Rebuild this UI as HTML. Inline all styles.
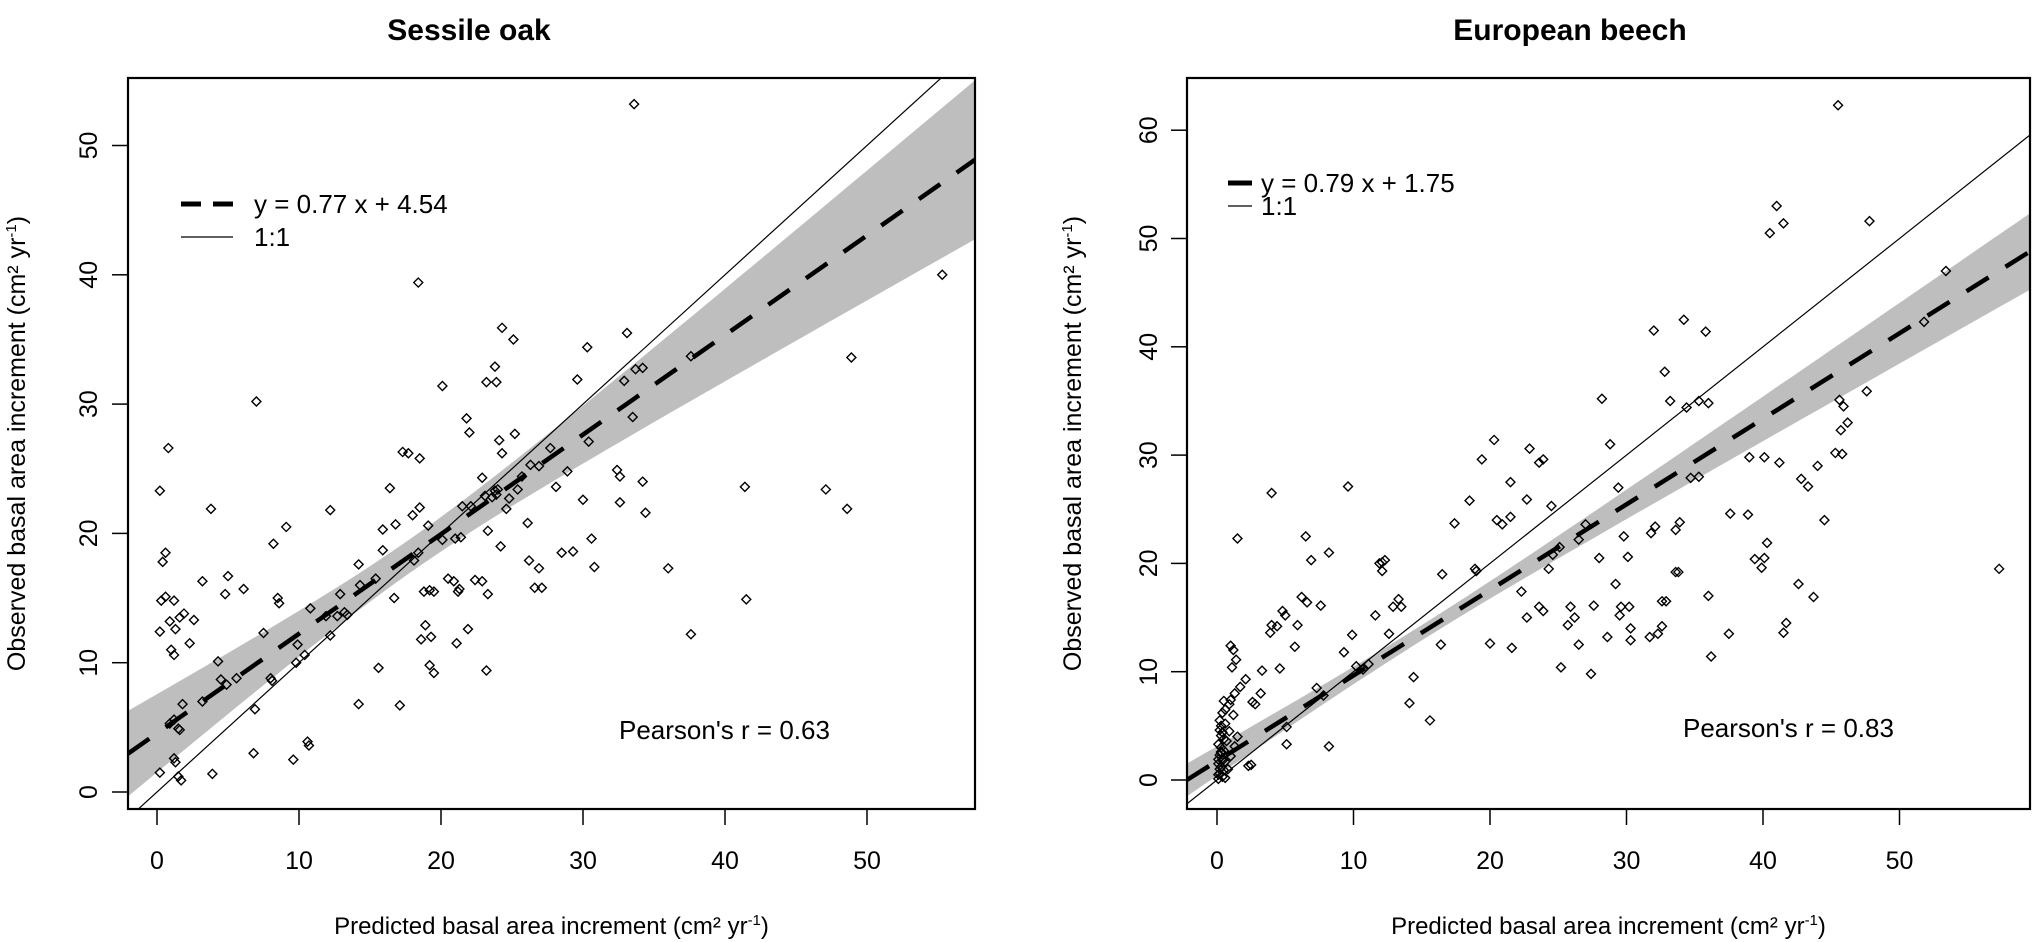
<!DOCTYPE html>
<html><head><meta charset="utf-8"><style>
html,body{margin:0;padding:0;background:#fff;}
svg{display:block;font-family:"Liberation Sans",Arial,sans-serif;}
</style></head><body>
<svg id="chart" width="2032" height="942" viewBox="0 0 2032 942" xmlns="http://www.w3.org/2000/svg"></svg>
<script>
// ---- data ----
const oakX = [33.6,18.4,7.0,0.8,0.2,3.8,0.6,0.4,0.3,0.6,1.2,3.2,5,6.1,4.8,2.6,1.6,1.9,0.9,1.3,0.2,1,1.2,2.3,4.5,4.3,1.8,1.2,0.9,1.5,1.6,1.2,1.3,0.2,1.7,1.5,3.9,6.8,6.9,3.2,9.6,10.6,10.7,9.8,10.4,9.1,8.5,8.6,8.2,7.5,8,8.1,9.9,11.9,12.2,10.8,12.9,12.2,13.2,13.4,15.4,14.2,14.2,15.6,16.4,15.9,17.3,17.1,17.7,18.5,16.8,16.7,18.5,18.4,19.1,18.1,18.8,19.2,18.6,19.5,18.9,19.3,19.2,19.5,20.1,20.1,20.5,21,20.9,21.2,21.3,21.4,21.5,21.1,21.9,22.4,22.0,21.8,23.2,22.9,23.6,23.8,23.9,24.0,23.3,23.1,22.9,23.3,23.2,23.8,23.9,24.3,25.1,24.1,24.3,25.2,24.2,24.8,25.4,26.1,26.2,25.7,26.3,26.9,26.6,27.1,26.9,27.7,28.1,28.9,28.5,29.6,30.0,30.3,30.4,30.6,30.8,32.4,32.6,32.6,32.9,33.7,34.2,33.1,34.2,34.4,33.5,36.0,37.6,37.6,41.4,41.5,47.1,48.6,48.9,55.3,29.3,22.1,24.6,12.7,14.3,15.9,18.0,4.9,5.6];
const oakY = [53.2,39.4,30.2,26.6,23.3,21.9,18.5,17.8,14.8,15.1,14.8,16.3,16.7,15.7,15.3,13.3,13.5,13.8,13.2,12.6,12.4,11,10.6,11.5,8.7,10.1,6.8,5.6,5.3,4.9,4.8,2.6,2.3,1.5,0.9,1.2,1.4,3.0,6.4,7,2.5,3.9,3.6,10.0,10.6,20.5,15.0,14.6,19.2,12.3,8.8,8.6,11.4,13.6,12.1,14.2,15.3,21.8,13.9,13.7,16.5,17.6,6.8,9.6,23.5,20.3,26.3,6.7,26.2,25.8,20.7,15.0,22.0,18.5,20.6,17.9,15.5,15.6,11.8,15.5,12.9,12.0,9.8,9.2,31.4,19.5,16.5,19.6,16.3,15.5,15.7,19.7,22.1,11.5,12.6,16.4,27.8,28.9,31.7,24.3,22.8,23.3,23.0,23.4,20.2,22.9,16.3,15.3,9.4,32.9,31.7,35.9,35.0,27.2,26.2,27.7,19.0,22.7,23.4,20.8,17.9,24.4,25.3,25.2,15.8,15.8,17.3,26.6,23.6,24.8,18.5,31.9,22.6,34.4,27.1,19.6,17.4,24.9,24.4,22.4,31.8,32.7,32.8,35.5,24.0,21.6,29.0,17.3,33.7,12.2,23.6,14.9,23.4,21.9,33.6,40.0,18.6,22.1,21.9,13.6,16.0,18.7,21.4,8.3,8.8];
const beechX = [45.5,41.0,40.5,41.5,47.8,32.0,34.2,35.8,32.8,33.2,28.2,34.4,28.8,20.3,23.9,23.6,22.9,21.5,22.7,24.5,21.5,20.9,25.1,27.0,26.5,29.4,29.8,30.1,28.0,32.1,31.8,33.6,33.9,33.6,32.9,32.3,32.6,31.7,30.3,28.6,29.5,29.6,27.6,26.2,25.9,25.7,27.4,25.2,24.3,22.7,23.6,23.9,21.6,20.0,19.0,18.9,18.5,17.4,16.5,16.4,15.6,14.4,14.1,13.5,13.3,12.9,12.1,12.3,11.9,12.1,11.6,12.6,11.1,10.7,10.2,9.9,9.6,9.3,8.2,8.2,7.6,7.3,6.9,6.6,6.5,6.2,5.9,5.7,5.0,4.8,4.4,4.0,4.0,4.6,3.9,3.3,3.2,2.8,2.6,2.3,2.5,2.1,1.5,1.2,1.0,1.4,1.1,1.7,1.3,1.0,0.9,0.5,0.6,1.2,1.5,0.6,0.3,0.2,0.4,0.9,0.1,0.3,0.5,0.2,0.4,0.6,0.1,0.3,0.5,0.2,0.4,0.1,0.6,0.8,1.0,1.3,0.7,0.3,0.1,5.1,5.1,7.8,36.0,36.2,37.5,37.6,39.0,38.9,39.4,40.1,39.9,40.3,40.1,41.2,41.7,42.6,42.8,43.3,43.7,44.5,45.3,45.8,45.6,45.7,45.9,46.2,47.6,51.8,53.4,57.3,44.0,32.6,30.2,35.3,34.7,36.0,35.3,41.5,20.5,19.4,24.6,22.3,26.5,30.3,29.2,33.8,0.2,0.4,0.3,0.1,0.5,0.2,0.4,0.3];
const beechY = [62.3,53.0,50.5,51.4,51.6,41.5,42.5,41.4,37.7,35.0,35.2,34.4,31.0,31.4,29.6,29.3,30.6,27.5,25.9,25.3,24.3,23.6,21.5,23.6,22.2,27.0,22.5,20.6,20.5,23.4,22.8,23.1,23.8,19.2,16.5,13.5,14.2,13.2,12.9,13.2,15.2,16.0,16.1,15.0,16.0,14.3,9.8,10.4,19.5,15.0,16.0,15.6,12.2,12.6,19.3,19.5,25.8,23.7,19.0,12.5,5.5,9.5,7.1,16.0,16.7,16.0,20.1,20.3,20.0,19.3,15.2,13.5,10.7,10.2,10.5,13.4,27.1,11.8,21.0,3.1,16.1,8.5,20.3,16.4,22.5,16.9,14.3,12.3,15.2,15.6,14.2,26.5,14.3,10.3,13.6,10.1,8.0,7.0,7.2,1.3,1.4,9.3,22.3,12.0,12.4,11.1,10.4,8.6,8.0,7.4,7.0,7.3,6.5,6.0,4.0,5.2,5.0,4.6,4.4,4.5,3.3,3.0,2.7,2.3,2.0,1.7,1.5,1.2,0.9,0.6,0.3,0.1,0.2,1.0,2.2,3.1,3.6,2.6,1.9,3.3,4.9,7.8,34.8,11.4,13.5,24.6,29.8,24.5,20.4,20.5,19.6,21.9,29.8,29.3,14.5,18.1,27.8,27.1,16.9,24.0,30.2,30.1,35.1,32.3,34.5,33.0,35.9,42.3,47.0,19.5,29.0,16.5,16.0,35.0,27.9,17.0,28.0,13.6,24.0,29.6,20.8,17.4,12.5,14.0,18.1,19.2,1.0,1.8,2.5,0.5,3.8,5.5,6.2,4.1];
const oakXTicks = [0,10,20,30,40,50];
const oakYTicks = [0,10,20,30,40,50];
const beechXTicks = [0,10,20,30,40,50];
const beechYTicks = [0,10,20,30,40,50,60];
const oakFit = [0.77, 4.54];
const beechFit = [0.79, 1.75];
const oakBand = [18, 1.69, 0.023];
const beechBand = [15, 0.5, 0.006];

const NS = "http://www.w3.org/2000/svg";
const svg = document.getElementById('chart');
function mk(tag, attrs, parent){
  const e = document.createElementNS(NS, tag);
  for (const k in attrs) e.setAttribute(k, attrs[k]);
  (parent||svg).appendChild(e);
  return e;
}

function panel(cfg){
  const g = mk('g', {});
  
  
  const sx = v => cfg.x0 + v*cfg.kx;
  const sy = v => cfg.y0 - v*cfg.ky;
  const clipId = cfg.name + '-clip';
  const cp = mk('clipPath', {id: clipId}, g);
  mk('rect', {x: cfg.L, y: cfg.T, width: cfg.R-cfg.L, height: cfg.B-cfg.T}, cp);
  const xmin = (cfg.L - cfg.x0)/cfg.kx, xmax = (cfg.R - cfg.x0)/cfg.kx;
  let up = [], lo = [];
  for (let i=0;i<=60;i++){
    const xv = xmin + (xmax-xmin)*i/60;
    const yv = cfg.fit[0]*xv + cfg.fit[1];
    const hw = Math.sqrt(cfg.band[1] + cfg.band[2]*(xv-cfg.band[0])**2);
    up.push(sx(xv).toFixed(1)+','+sy(yv+hw).toFixed(1));
    lo.unshift(sx(xv).toFixed(1)+','+sy(yv-hw).toFixed(1));
  }
  const band = mk('polygon', {points: up.concat(lo).join(' '), fill:'#bebebe', 'clip-path':'url(#'+clipId+')'}, g);
  
  
  const one = mk('line', {x1: sx(xmin), y1: sy(xmin), x2: sx(xmax), y2: sy(xmax), stroke:'#000', 'stroke-width':1.2, 'clip-path':'url(#'+clipId+')'}, g);
  
  
  const reg = mk('line', {x1: sx(xmin), y1: sy(cfg.fit[0]*xmin+cfg.fit[1]), x2: sx(xmax), y2: sy(cfg.fit[0]*xmax+cfg.fit[1]), stroke:'#000', 'stroke-width':4.5, 'stroke-dasharray':'26 20', 'clip-path':'url(#'+clipId+')'}, g);
  
  
  for (let i=0;i<cfg.xs.length;i++){
    const px = sx(cfg.xs[i]), py = sy(cfg.ys[i]), r = 4.5;
    const p = mk('polygon', {points: `${px},${py-r} ${px+r},${py} ${px},${py+r} ${px-r},${py}`, fill:'none', stroke:'#000', 'stroke-width':1.4}, g);
    
    
  }
  const fr = mk('rect', {x: cfg.L, y: cfg.T, width: cfg.R-cfg.L, height: cfg.B-cfg.T, fill:'none', stroke:'#000', 'stroke-width':2.2}, g);
  
  
  cfg.xt.forEach(v => {
    mk('line', {x1: sx(v), y1: cfg.B, x2: sx(v), y2: cfg.B+16, stroke:'#000', 'stroke-width':1.5}, g);
    const t = mk('text', {x: sx(v), y: 869, 'text-anchor':'middle', 'font-size':25, fill:'#000'}, g);
    t.textContent = v;
    
    
  });
  cfg.yt.forEach(v => {
    mk('line', {x1: cfg.L, y1: sy(v), x2: cfg.L-16, y2: sy(v), stroke:'#000', 'stroke-width':1.5}, g);
    const t = mk('text', {x: 0, y: 0, 'text-anchor':'middle', 'font-size':25, fill:'#000', transform:`translate(${cfg.ylx},${sy(v)}) rotate(-90)`}, g);
    t.textContent = v;
    
    
  });
  const ti = mk('text', {x: cfg.tx, y: 40, 'text-anchor':'middle', 'font-size':30, 'font-weight':'bold', fill:'#000'}, g);
  ti.textContent = cfg.title;
  
  
  const xt = mk('text', {x: (cfg.L+cfg.R)/2, y: 934, 'text-anchor':'middle', 'font-size':24, fill:'#000'}, g);
  xt.innerHTML = 'Predicted basal area increment (cm² yr<tspan dy="-9" font-size="15">-1</tspan><tspan dy="9">)</tspan>';
  
  
  const yt = mk('text', {x: 0, y: 0, 'text-anchor':'middle', 'font-size':25, fill:'#000', transform:`translate(${cfg.ytx},${(cfg.T+cfg.B)/2}) rotate(-90)`}, g);
  yt.innerHTML = 'Observed basal area increment (cm² yr<tspan dy="-9" font-size="15">-1</tspan><tspan dy="9">)</tspan>';
  
  
  const lg = mk('g', {}, g);
  
  
  mk('line', {x1: cfg.lg[0], y1: cfg.lg[2], x2: cfg.lg[1], y2: cfg.lg[2], stroke:'#000', 'stroke-width':5, 'stroke-dasharray': cfg.lgDash}, lg);
  mk('line', {x1: cfg.lg[0], y1: cfg.lg[3], x2: cfg.lg[1], y2: cfg.lg[3], stroke:'#000', 'stroke-width':1.3}, lg);
  const l1 = mk('text', {x: cfg.lg[4], y: cfg.lg[2]+9, 'font-size':26, fill:'#000'}, lg);
  l1.textContent = `y = ${cfg.fit[0].toFixed(2)} x  +  ${cfg.fit[1].toFixed(2)}`;
  
  
  const l2 = mk('text', {x: cfg.lg[4], y: cfg.lg[3]+9, 'font-size':26, fill:'#000'}, lg);
  l2.textContent = '1:1';
  
  
  const pr = mk('text', {x: cfg.px, y: cfg.py, 'font-size':26, fill:'#000'}, g);
  pr.textContent = "Pearson's r =  " + cfg.r;
  
  
}

panel({name:'sessile-oak', title:'Sessile oak', xs:oakX, ys:oakY, xt:oakXTicks, yt:oakYTicks, fit:oakFit, band:oakBand,
  L:128, R:975, T:78, B:809, x0:157, kx:14.2, y0:792, ky:12.93, ylx:97, ytx:25, tx:469,
  lg:[181,233,204,237,254], lgDash:'20 12', px:619, py:739, r:'0.63'});
panel({name:'european-beech', title:'European beech', xs:beechX, ys:beechY, xt:beechXTicks, yt:beechYTicks, fit:beechFit, band:beechBand,
  L:1187, R:2030, T:78, B:809, x0:1217, kx:13.65, y0:780, ky:10.83, ylx:1157, ytx:1081, tx:1570,
  lg:[1228,1252,183,206,1261], lgDash:'24 0', px:1683, py:737, r:'0.83'});
</script>
</body></html>
